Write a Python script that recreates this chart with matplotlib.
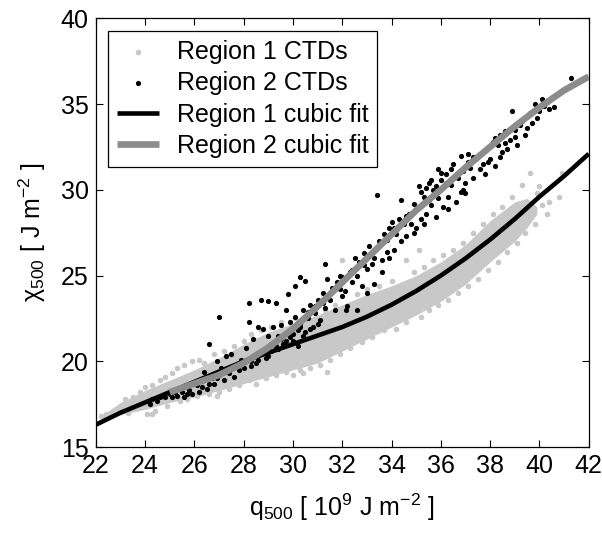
import matplotlib
matplotlib.use("Agg")
import matplotlib.pyplot as plt
import numpy as np

plt.rcParams['font.family'] = ['Liberation Sans', 'DejaVu Sans']
plt.rcParams['mathtext.fontset'] = 'custom'
plt.rcParams['mathtext.rm'] = 'Liberation Sans'
plt.rcParams['mathtext.it'] = 'Liberation Sans'
plt.rcParams['mathtext.bf'] = 'Liberation Sans:bold'

# ---------------- data ----------------
# Region 1: dense core of the cloud (lower / upper edge) and scattered edge points
r1_core_x = [22.3, 23, 24, 25, 26, 27, 28, 29, 30, 31, 32, 33, 34, 35, 36, 37, 38, 39, 39.5, 39.9]
r1_core_lo = [16.6, 16.9, 17.2, 17.6, 17.9, 18.3, 18.7, 19.1, 19.5, 19.9, 20.6, 21.3, 22.0,
              22.7, 23.5, 24.5, 25.8, 27.0, 27.8, 28.6]
r1_core_hi = [16.9, 17.6, 18.3, 18.9, 19.5, 20.2, 21.0, 21.7, 22.2, 22.7, 23.3, 23.9, 24.4,
              25.0, 25.8, 26.8, 28.2, 29.3, 29.5, 29.0]

r1_x = [22.2, 22.4, 22.6, 22.8, 23.0, 23.2, 23.3, 23.5, 23.7, 23.8, 24.0, 24.1, 24.3, 24.4,
        24.6, 24.8, 24.9, 25.1, 25.3, 25.4, 25.6, 25.7, 25.9, 26.1, 26.2, 26.4, 26.6, 26.8,
        27.0, 27.2, 27.4, 27.6, 27.8, 28.0, 28.2, 28.3, 28.5, 28.7, 28.9, 29.1, 29.3, 29.5,
        29.7, 30.0, 30.1, 30.3, 30.5, 30.7, 30.9, 31.1, 31.3, 31.5, 31.7, 31.9, 32.0, 32.3,
        32.6, 32.8, 33.0, 33.2, 33.5, 33.7, 34.0, 34.2, 34.6, 34.6, 34.9, 35.1, 35.2, 35.3,
        35.5, 35.7, 35.9, 36.1, 36.3, 36.5, 36.7, 36.9, 37.1, 37.3, 37.5, 37.7, 37.9, 38.1,
        38.3, 38.5, 38.7, 38.9, 39.1, 39.3, 39.4, 39.6, 39.8, 40.0, 40.3, 40.4, 40.8, 40.9,
        24.3, 26.9, 30.4, 31.4, 40.1, 39.9]
r1_y = [16.8, 16.9, 17.0, 17.1, 17.2, 17.8, 17.0, 17.9, 17.3, 18.2, 18.5, 16.9, 18.6, 17.1,
        18.9, 19.1, 17.4, 19.3, 19.6, 17.7, 19.8, 17.8, 20.0, 18.0, 20.1, 19.9, 18.1, 20.4,
        18.2, 20.6, 18.4, 20.9, 18.6, 21.2, 18.9, 21.6, 18.7, 21.8, 19.0, 22.0, 19.2, 22.3,
        19.4, 19.2, 22.5, 19.5, 22.6, 19.6, 22.9, 19.8, 23.0, 20.1, 23.3, 20.4, 25.9, 20.8,
        23.9, 21.1, 24.2, 21.4, 24.4, 21.8, 24.7, 21.9, 25.9, 22.3, 25.2, 26.5, 22.6, 25.5,
        23.0, 25.9, 23.3, 26.2, 23.6, 26.5, 24.0, 26.9, 24.4, 27.5, 24.8, 28.0, 25.3, 28.6,
        25.8, 29.0, 26.4, 29.6, 26.9, 30.3, 27.5, 31.0, 28.0, 30.2, 28.6, 29.3, 29.6, 31.0,
        16.9, 18.0, 19.3, 19.4, 29.1, 29.8]

# Region 2 CTDs
r2_x = [24.2, 24.3, 24.5, 24.7, 24.8, 25.0, 25.1, 25.3, 25.5, 25.6, 25.8, 25.9,
        26.1, 26.2, 26.3, 26.4, 26.5, 26.6, 26.7, 26.8, 26.9, 27.0, 27.0, 27.1, 27.2, 27.3,
        27.4, 27.5, 27.6, 27.7, 27.8, 27.9,
        28.0, 28.1, 28.2, 28.2, 28.3, 28.4, 28.5, 28.6, 28.7, 28.7, 28.8, 28.9, 29.0, 29.0,
        29.1, 29.2, 29.3, 29.3, 29.4, 29.5, 29.6, 29.7, 29.8, 29.8, 29.9,
        30.0, 30.1, 30.1, 30.2, 30.3, 30.3, 30.4, 30.5, 30.5, 30.6, 30.7, 30.8, 30.9, 31.0,
        31.1, 31.2, 31.3, 31.3, 31.4, 31.5, 31.6, 31.7, 31.8, 31.9,
        32.0, 32.0, 32.1, 32.2, 32.3, 32.4, 32.5, 32.6, 32.7, 32.8, 32.9, 33.0, 33.1, 33.2,
        33.3, 33.4, 33.4, 33.5, 33.6, 33.7, 33.8, 33.9, 33.9,
        34.0, 34.1, 34.2, 34.3, 34.4, 34.4, 34.5, 34.6, 34.7, 34.8, 34.9, 35.0, 35.0, 35.1,
        35.2, 35.3, 35.4, 35.5, 35.6, 35.7, 35.8, 35.9, 35.9,
        36.0, 36.1, 36.2, 36.3, 36.4, 36.5, 36.6, 36.7, 36.8, 36.8, 36.9, 37.0, 37.1, 37.2,
        37.3, 37.4, 37.5, 37.6, 37.7, 37.8, 37.9,
        38.0, 38.1, 38.2, 38.3, 38.4, 38.5, 38.6, 38.7, 38.8, 38.9, 39.0, 39.1, 39.2,
        39.3, 39.5, 39.6, 39.7, 39.8, 40.0, 40.1, 40.2, 40.4, 41.3,
        28.3, 28.6, 29.0, 29.4, 29.7, 30.0, 30.2, 30.4, 30.7, 31.0,
        32.15, 32.6, 33.0, 33.3, 33.6,
        35.2, 35.4, 35.6, 35.8, 36.0, 36.2, 36.4, 36.6, 36.9, 37.1, 37.3, 35.5, 35.8, 36.3,
        37.0, 34.6, 34.9, 35.3, 34.1, 33.8, 33.2, 32.9, 32.4, 31.9, 31.5, 31.2, 30.9, 30.6,
        30.3, 29.9, 29.5, 29.1, 28.8, 28.5, 28.1, 27.8, 27.5, 27.2, 26.9, 26.6, 26.3, 25.7,
        25.2, 24.6, 38.2, 38.6, 39.0, 39.4, 37.6, 37.9, 38.4, 39.9, 40.3, 40.6]
r2_y = [17.5, 17.8, 17.7, 18.0, 17.9, 18.1, 17.9, 18.0, 18.2, 17.9, 18.3, 18.1,
        18.6, 18.2, 18.9, 19.4, 18.4, 21.0, 19.0, 18.7, 20.0, 22.6, 19.2, 19.6, 18.9, 20.3,
        19.3, 20.4, 19.1, 19.8, 19.5, 20.1,
        19.6, 20.8, 23.4, 22.3, 20.0, 21.3, 19.9, 22.0, 23.6, 20.4, 21.9, 20.2, 23.5, 21.5,
        20.6, 22.0, 23.4, 20.9, 21.5, 22.1, 21.0, 23.0, 23.9, 21.6, 22.3,
        21.2, 24.4, 22.6, 21.8, 24.9, 22.2, 23.0, 24.7, 21.7, 22.5, 23.3, 22.0, 22.8, 23.6,
        22.4, 24.0, 25.7, 23.1, 24.8, 23.6, 24.3, 23.0, 24.6, 25.0,
        23.8, 24.9, 24.1, 23.2, 25.2, 24.6, 26.0, 25.0, 25.8, 24.4, 26.3, 25.4, 26.7, 25.7,
        26.0, 29.7, 26.6, 27.0, 25.9, 27.4, 26.4, 27.8, 26.0,
        28.1, 26.5, 27.4, 28.3, 29.4, 27.0, 28.0, 27.3, 28.6, 28.0, 29.2, 27.8, 28.9, 30.2,
        28.3, 29.6, 28.6, 30.4, 29.1, 30.0, 28.4, 31.2, 29.5,
        30.6, 29.0, 30.9, 29.6, 30.3, 31.5, 29.3, 30.7, 32.0, 29.9, 31.1, 30.4, 32.1, 31.3,
        30.7, 31.8, 32.0, 31.2, 31.5, 30.9, 32.5,
        31.8, 32.8, 31.4, 32.6, 33.2, 32.2, 33.4, 32.4, 32.9, 34.6, 33.1, 32.6, 33.8,
        34.0, 33.6, 34.5, 33.9, 35.0, 34.6, 35.3, 34.9, 34.7, 36.5,
        19.7, 20.1, 20.3, 20.7, 21.2, 21.6, 20.9, 21.5, 21.9, 22.2,
        23.0, 23.0, 24.0, 24.5, 25.2,
        29.9, 30.1, 30.6, 30.2, 31.0, 30.4, 31.2, 30.8, 30.0, 31.6, 31.9, 29.4, 29.8, 28.9,
        29.8, 28.5, 27.5, 28.0, 27.8, 27.1, 26.3, 25.6, 25.3, 24.2, 24.0, 23.4, 23.2, 22.9,
        22.0, 21.4, 21.3, 21.0, 20.6, 20.3, 20.0, 19.9, 19.6, 19.4, 19.0, 18.7, 18.5, 18.1,
        18.2, 17.9, 33.0, 32.7, 33.5, 33.2, 32.1, 31.6, 31.9, 34.2, 35.1, 34.8]

# cubic-fit curves
fit1_x = [22, 23, 24, 25, 26, 27, 28, 29, 30, 31, 32, 33, 34, 35, 36, 37, 38, 39, 40, 41, 42]
fit1_y = [16.3, 17.0, 17.6, 18.2, 18.8, 19.4, 20.0, 20.5, 21.0, 21.5, 22.0, 22.6, 23.3,
          24.1, 25.0, 26.0, 27.1, 28.3, 29.6, 30.8, 32.1]
fit2_x = [25, 26, 27, 28, 29, 30, 31, 32, 33, 34, 35, 36, 37, 38, 39, 40, 41, 42]
fit2_y = [18.2, 18.7, 19.2, 19.9, 20.8, 21.9, 23.2, 24.6, 26.0, 27.4, 28.8, 30.0, 31.3,
          32.5, 33.7, 34.8, 35.8, 36.6]

x_ticks = [22, 24, 26, 28, 30, 32, 34, 36, 38, 40, 42]
y_ticks = [15, 20, 25, 30, 35, 40]

c_r1 = '#c8c8c8'
c_r2fit = '#8c8c8c'

fig = plt.figure(figsize=(6.02, 5.38), dpi=100)
ax = fig.add_axes([0.159, 0.169, 0.819, 0.797])

ax.fill_between(r1_core_x, r1_core_lo, r1_core_hi, color=c_r1, lw=0, zorder=1)
ax.scatter(r1_x, r1_y, s=16, color=c_r1, lw=0, zorder=1.5)
ax.scatter([], [], s=16, color=c_r1, lw=0, label='Region 1 CTDs')
ax.scatter(r2_x, r2_y, s=14, color='black', lw=0, zorder=2, label='Region 2 CTDs')
ax.plot(fit1_x, fit1_y, color='black', lw=3.3, solid_capstyle='butt', zorder=3,
        label='Region 1 cubic fit')
ax.plot(fit2_x, fit2_y, color=c_r2fit, lw=4.8, solid_capstyle='butt', zorder=4,
        label='Region 2 cubic fit')

ax.set_xlim(22, 42)
ax.set_ylim(15, 40)
ax.set_xticks(x_ticks)
ax.set_yticks(y_ticks)
ax.tick_params(direction='in', top=True, right=True, length=5, width=0.8,
               labelsize=18, pad=5)
for sp in ax.spines.values():
    sp.set_linewidth(0.9)

ax.set_xlabel('q$_{500}$ [ 10$^{9}$ J m$^{-2}$ ]', fontsize=18, labelpad=10)
ax.set_ylabel('χ$_{500}$ [ J m$^{-2}$ ]', fontsize=18, labelpad=9)

leg = ax.legend(loc='upper left', fontsize=18, frameon=True, fancybox=False,
                edgecolor='black', framealpha=1, borderaxespad=0.5,
                labelspacing=0.3, handlelength=1.7, handletextpad=0.7,
                borderpad=0.35, markerscale=1.0)
leg.get_frame().set_linewidth(0.9)

fig.savefig('out.png', dpi=100)
